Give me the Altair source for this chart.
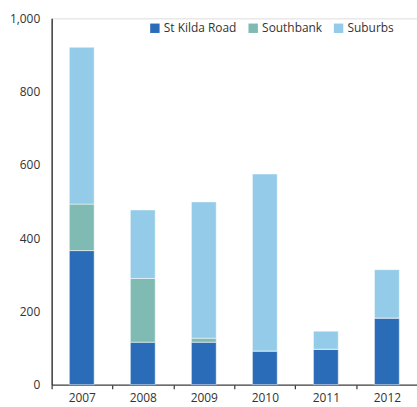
import altair as alt
import pandas as pd

years = ["2007", "2008", "2009", "2010", "2011", "2012"]
series = ["St Kilda Road", "Southbank", "Suburbs"]
st_kilda = [366, 116, 116, 92, 97, 182]
southbank = [127, 174, 11, 0, 0, 0]
suburbs = [428, 187, 372, 483, 49, 132]
colors = ["#2B6CB8", "#7FBBB2", "#93CBE8"]

rows = []
for i, y in enumerate(years):
    for k, (name, vals) in enumerate(zip(series, [st_kilda, southbank, suburbs])):
        rows.append({"year": y, "series": name, "value": vals[i], "ord": k})
df = pd.DataFrame(rows)

FONT = "Open Sans"
PI = 0.593
PO = 0.29
W = 368
step = W / (len(years) - PI + 2 * PO)
shift = PI * step / 2 + (1 - PI) * step / 2

x_scale = alt.Scale(domain=years, paddingInner=PI, paddingOuter=PO)

x_enc = alt.X("year:N", sort=years, scale=x_scale,
              axis=alt.Axis(title=None, ticks=True, tickSize=4, tickColor="#333333",
                            tickWidth=1.2, tickOffset=-shift, labelOffset=shift,
                            labelAngle=0, labelFontSize=12,
                            labelColor="#333333", labelFont=FONT, labelPadding=4,
                            domainColor="#444444", domainWidth=1.2))

bars = alt.Chart(df).mark_bar(stroke="white", strokeWidth=0.5).encode(
    x=x_enc,
    y=alt.Y("value:Q", stack="zero", scale=alt.Scale(domain=[0, 1000]),
            axis=alt.Axis(title=None, values=[0, 200, 400, 600, 800, 1000], format=",.0f",
                          ticks=False, grid=False, labelFontSize=12, labelColor="#333333",
                          labelFont=FONT, labelPadding=12, domainColor="#111111",
                          domainWidth=1.2)),
    color=alt.Color("series:N", sort=series,
                    scale=alt.Scale(domain=series, range=colors),
                    legend=alt.Legend(title=None, orient="none", legendX=98, legendY=4,
                                      direction="horizontal", symbolType="square",
                                      symbolSize=90, symbolStrokeWidth=0, labelFontSize=12,
                                      labelFont=FONT, labelColor="#333333",
                                      columnPadding=10, labelOffset=3)),
    order=alt.Order("ord:Q", sort="ascending"),
)

chart = bars.properties(
    width=W, height=369,
    padding={"left": 52, "top": 17, "right": 0, "bottom": 21},
    autosize=alt.AutoSizeParams(type="none"),
).configure_view(stroke=None).configure(font=FONT)

chart.save("out.html", embed_options={"renderer": "svg", "actions": False})
